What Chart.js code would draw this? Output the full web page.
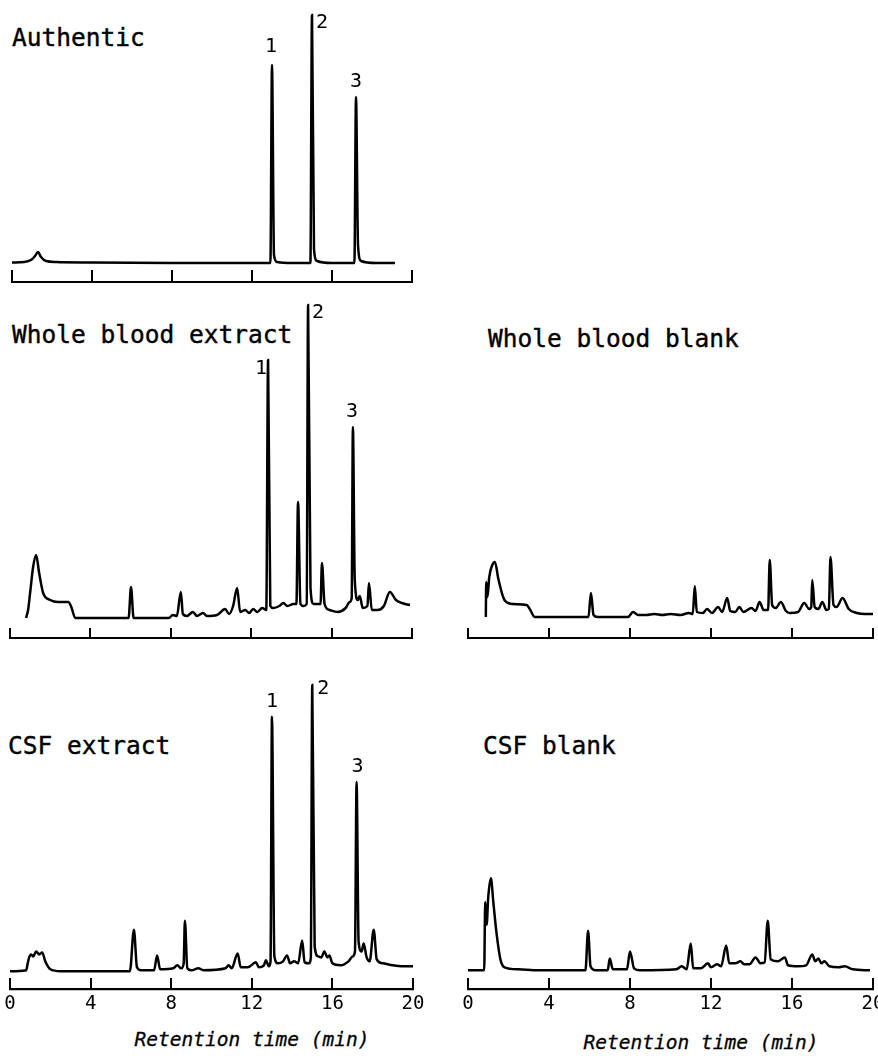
<!DOCTYPE html>
<html>
<head>
<meta charset="utf-8">
<title>Chromatograms</title>
<script src="https://cdn.jsdelivr.net/npm/chart.js@4.4.0/dist/chart.umd.min.js"></script>
<style>
  html, body { margin: 0; padding: 0; background: #fff; overflow: hidden; }
  body { width: 878px; height: 1059px; position: relative; font-family: 'DejaVu Sans Mono', monospace; color: #000; }
  canvas { position: absolute; }
  .title { position: absolute; font-size: 24.5px; line-height: 1; white-space: pre; -webkit-text-stroke: 0.4px #000; }
  .xtitle { position: absolute; font-size: 19.5px; line-height: 1; font-style: italic; white-space: pre; transform: translateX(-50%); -webkit-text-stroke: 0.3px #000; }
</style>
</head>
<body>

<div class="title" style="left:12px; top:26px;">Authentic</div>
<div class="title" style="left:12px; top:323px;">Whole blood extract</div>
<div class="title" style="left:488px; top:327px;">Whole blood blank</div>
<div class="title" style="left:8px; top:734px;">CSF extract</div>
<div class="title" style="left:483px; top:734px;">CSF blank</div>

<canvas id="authentic" width="440" height="284" style="left:0; top:0;"></canvas>
<canvas id="bloodExtract" width="440" height="350" style="left:0; top:290px;"></canvas>
<canvas id="bloodBlank" width="450" height="350" style="left:440px; top:290px;"></canvas>
<canvas id="csfExtract" width="440" height="362" style="left:0; top:660px;"></canvas>
<canvas id="csfBlank" width="450" height="362" style="left:440px; top:660px;"></canvas>

<div class="xtitle" style="left:252px; top:1030px;">Retention time (min)</div>
<div class="xtitle" style="left:701px; top:1033px;">Retention time (min)</div>

<script>
// ---- datos: tiempo de retención (min) y respuesta del detector sobre la línea base ----

const xTicks = [0, 4, 8, 12, 16, 20];
const peakNumbers = ['1', '2', '3'];

// Authentic
const authenticTime = [0.0, 0.6, 0.95, 1.15, 1.3, 1.45, 1.7, 2.2, 4.0, 8.0,
  12.0, 12.92, 13.0, 13.1, 13.25, 14.0, 14.92, 15.0, 15.1, 15.25,
  16.0, 17.12, 17.2, 17.3, 17.45, 18.2, 19.15];
const authenticSignal = [0.5, 1, 3, 7, 11, 6, 2, 1, 0.5, 0,
  0, 0, 198, 8, 1, 0, 0, 248, 14, 2,
  0, 0, 166, 18, 2, 0, 0];
const authenticPeaks = [13.0, 15.0, 17.2];

// Whole blood extract
const bloodExtractTime = [0.8, 0.9, 1.0, 1.15, 1.3, 1.45, 1.65, 2.0, 2.4, 2.9,
  3.05, 3.25, 5.9, 6.02, 6.15, 7.9, 8.1, 8.3, 8.5, 8.6,
  8.8, 9.1, 9.3, 9.6, 9.8, 10.3, 10.7, 10.9, 11.1, 11.3,
  11.45, 11.7, 11.9, 12.1, 12.3, 12.55, 12.75, 12.84, 12.95, 13.1,
  13.4, 13.6, 13.8, 14.1, 14.25, 14.33, 14.45, 14.6, 14.76, 14.83,
  14.95, 15.1, 15.3, 15.45, 15.52, 15.65, 15.9, 16.3, 16.7, 16.9,
  17.0, 17.06, 17.15, 17.3, 17.4, 17.55, 17.78, 17.86, 18.0, 18.3,
  18.6, 18.9, 19.2, 19.5, 19.9];
const bloodExtractSignal = [0, 8, 25, 51, 63, 45, 25, 18, 16, 16,
  11, 0, 0, 31, 0, 0, 3, 2, 26, 4,
  2, 6, 2, 5, 2, 3, 9, 4, 12, 30,
  6, 8, 5, 9, 6, 10, 8, 258, 12, 10,
  12, 15, 12, 14, 14, 116, 14, 12, 14, 313,
  30, 14, 14, 14, 55, 14, 8, 6, 10, 16,
  20, 191, 40, 18, 22, 10, 12, 35, 8, 8,
  12, 26, 18, 15, 13];
const bloodExtractPeaks = [12.84, 14.83, 17.06];

// Whole blood blank
const bloodBlankTime = [0.88, 0.9, 0.96, 1.05, 1.2, 1.33, 1.5, 1.8, 2.2, 2.9,
  3.05, 3.3, 5.95, 6.07, 6.2, 6.4, 7.9, 8.15, 8.4, 8.8,
  9.2, 9.6, 10.0, 10.5, 10.9, 11.1, 11.2, 11.3, 11.6, 11.8,
  12.05, 12.35, 12.55, 12.8, 12.95, 13.2, 13.4, 13.6, 14.0, 14.2,
  14.4, 14.6, 14.82, 14.9, 15.02, 15.2, 15.45, 15.7, 15.9, 16.3,
  16.6, 16.85, 16.95, 17.0, 17.12, 17.3, 17.5, 17.7, 17.82, 17.9,
  18.05, 18.2, 18.5, 18.8, 19.2, 19.6, 20.0];
const bloodBlankSignal = [0, 35, 20, 40, 52, 55, 38, 17, 13, 12,
  8, 0, 0, 24, 2, 0, 0, 5, 2, 2,
  3, 2, 3, 2, 4, 3, 31, 5, 4, 8,
  4, 10, 5, 19, 6, 5, 10, 5, 9, 6,
  15, 7, 7, 57, 12, 9, 15, 6, 4, 5,
  14, 8, 10, 37, 10, 8, 15, 7, 8, 60,
  12, 10, 19, 8, 4, 3, 3];

// CSF extract
const csfExtractTime = [0.0, 0.8, 0.88, 0.95, 1.05, 1.15, 1.3, 1.45, 1.6, 1.75,
  2.0, 2.5, 5.95, 6.15, 6.3, 6.5, 7.15, 7.3, 7.45, 8.1,
  8.3, 8.5, 8.62, 8.68, 8.8, 9.0, 9.35, 9.6, 10.7, 10.85,
  11.0, 11.3, 11.45, 11.8, 12.2, 12.35, 12.6, 12.7, 12.85, 12.93,
  13.0, 13.12, 13.3, 13.55, 13.75, 13.9, 14.1, 14.3, 14.5, 14.62,
  14.85, 14.93, 15.0, 15.12, 15.3, 15.45, 15.6, 15.75, 15.85, 16.0,
  16.4, 16.8, 17.0, 17.12, 17.2, 17.3, 17.45, 17.55, 17.7, 17.85,
  18.05, 18.2, 18.5, 19.0, 19.5, 20.0];
const csfExtractSignal = [0, 1, 8, 14, 17, 15, 20, 17, 19, 10,
  2, 0, 0, 42, 4, 1, 1, 16, 2, 3,
  6, 3, 8, 51, 3, 1, 3, 1, 3, 6,
  3, 18, 4, 4, 9, 4, 6, 11, 5, 10,
  257, 15, 8, 10, 16, 8, 10, 8, 31, 9,
  8, 14, 289, 25, 15, 14, 20, 14, 16, 8,
  6, 10, 15, 20, 191, 30, 20, 28, 14, 10,
  42, 12, 8, 6, 5, 5];
const csfExtractPeaks = [13.0, 15.0, 17.2];

// CSF blank
const csfBlankTime = [0.0, 0.8, 0.85, 0.92, 1.0, 1.13, 1.25, 1.4, 1.6, 1.8,
  2.5, 3.5, 5.8, 5.93, 6.05, 6.3, 6.9, 7.0, 7.15, 7.85,
  8.0, 8.2, 8.5, 10.3, 10.55, 10.8, 11.0, 11.12, 11.5, 11.85,
  12.0, 12.3, 12.5, 12.75, 12.9, 13.2, 13.45, 13.65, 13.9, 14.2,
  14.45, 14.65, 14.8, 14.95, 15.3, 15.65, 15.8, 16.3, 16.7, 17.0,
  17.15, 17.3, 17.45, 17.6, 17.85, 18.3, 18.6, 19.0, 19.85];
const csfBlankSignal = [1, 1, 70, 47, 75, 94, 70, 40, 12, 4,
  2, 1, 1, 41, 5, 1, 1, 13, 2, 2,
  20, 3, 1, 2, 5, 2, 28, 3, 3, 8,
  4, 7, 5, 26, 8, 8, 10, 7, 7, 14,
  8, 9, 51, 12, 10, 14, 6, 5, 6, 17,
  10, 13, 8, 10, 5, 4, 5, 2, 1];


// ---- plugins ----

// Línea del eje dibujada bajo las marcas (las marcas suben desde ella)
const baselineAxis = {
  id: 'baselineAxis',
  afterDraw(chart, args, opts) {
    const ctx = chart.ctx;
    const x = chart.scales.x;
    const y = x.top + opts.tickLength;
    ctx.save();
    ctx.strokeStyle = '#000';
    ctx.lineWidth = 2.2;
    ctx.beginPath();
    ctx.moveTo(x.getPixelForValue(0) - 1, y);
    ctx.lineTo(x.getPixelForValue(20) + 1, y);
    ctx.stroke();
    ctx.restore();
  }
};

// Números de pico (1, 2, 3) junto a su ápice
const peakLabels = {
  id: 'peakLabels',
  afterDatasetsDraw(chart, args, opts) {
    if (!opts.times) return;
    const { ctx, scales: { x, y } } = chart;
    const pts = chart.data.datasets[0].data;
    ctx.save();
    ctx.font = '20px "DejaVu Sans Mono"';
    ctx.fillStyle = '#000';
    ctx.textAlign = 'center';
    ctx.textBaseline = 'middle';
    opts.times.forEach((t, i) => {
      const p = pts.find(d => d.x === t);
      if (!p) return;
      const off = opts.offsets[i];
      ctx.fillText(peakNumbers[i], x.getPixelForValue(p.x) + off[0], y.getPixelForValue(p.y) + off[1]);
    });
    ctx.restore();
  }
};


// ---- gráficos ----

function makeChromatogram(id, time, signal, cfg) {
  const points = time.map((t, i) => ({ x: t, y: signal[i] }));
  return new Chart(document.getElementById(id), {
    type: 'line',
    data: {
      datasets: [{
        data: points,
        borderColor: '#000',
        borderWidth: 2.5,
        pointRadius: 0,
        fill: false,
        cubicInterpolationMode: 'monotone'
      }]
    },
    options: {
      responsive: false,
      animation: false,
      layout: { padding: cfg.padding },
      plugins: {
        legend: { display: false },
        tooltip: { enabled: false },
        peakLabels: cfg.peaks || {},
        baselineAxis: { tickLength: cfg.tickLength }
      },
      scales: {
        x: {
          type: 'linear',
          min: 0,
          max: 20,
          afterBuildTicks: axis => { axis.ticks = xTicks.map(v => ({ value: v })); },
          grid: { drawOnChartArea: false, drawTicks: true, tickLength: cfg.tickLength, color: '#000', lineWidth: 2 },
          border: { display: false },
          ticks: {
            display: cfg.labels,
            color: '#000',
            font: { family: 'DejaVu Sans Mono', size: 19 },
            padding: 3,
            maxRotation: 0,
            autoSkip: false
          }
        },
        y: { display: false, min: cfg.yMin, max: cfg.yMax }
      }
    },
    plugins: [baselineAxis, peakLabels]
  });
}

makeChromatogram('authentic', authenticTime, authenticSignal, {
  padding: { top: 10, bottom: 2, left: 12, right: 28 },
  tickLength: 12, labels: false, yMin: -7, yMax: 253,
  peaks: { times: authenticPeaks, offsets: [[-1, -18], [10, 8], [0, -15]] }
});

makeChromatogram('bloodExtract', bloodExtractTime, bloodExtractSignal, {
  padding: { top: 10, bottom: 2, left: 10, right: 28 },
  tickLength: 10, labels: false, yMin: -10, yMax: 318,
  peaks: { times: bloodExtractPeaks, offsets: [[-7, 9], [10, 8], [-1, -15]] }
});

makeChromatogram('bloodBlank', bloodBlankTime, bloodBlankSignal, {
  padding: { top: 10, bottom: 2, left: 28, right: 17 },
  tickLength: 10, labels: false, yMin: -11, yMax: 317
});

makeChromatogram('csfExtract', csfExtractTime, csfExtractSignal, {
  padding: { top: 20, bottom: 4, left: 10, right: 27 },
  tickLength: 11, labels: true, yMin: -7, yMax: 294,
  peaks: { times: csfExtractPeaks, offsets: [[0, -15], [11, 4], [1, -15]] }
});

makeChromatogram('csfBlank', csfBlankTime, csfBlankSignal, {
  padding: { top: 20, bottom: 4, left: 28, right: 17 },
  tickLength: 11, labels: true, yMin: -7, yMax: 294
});
</script>
</body>
</html>
